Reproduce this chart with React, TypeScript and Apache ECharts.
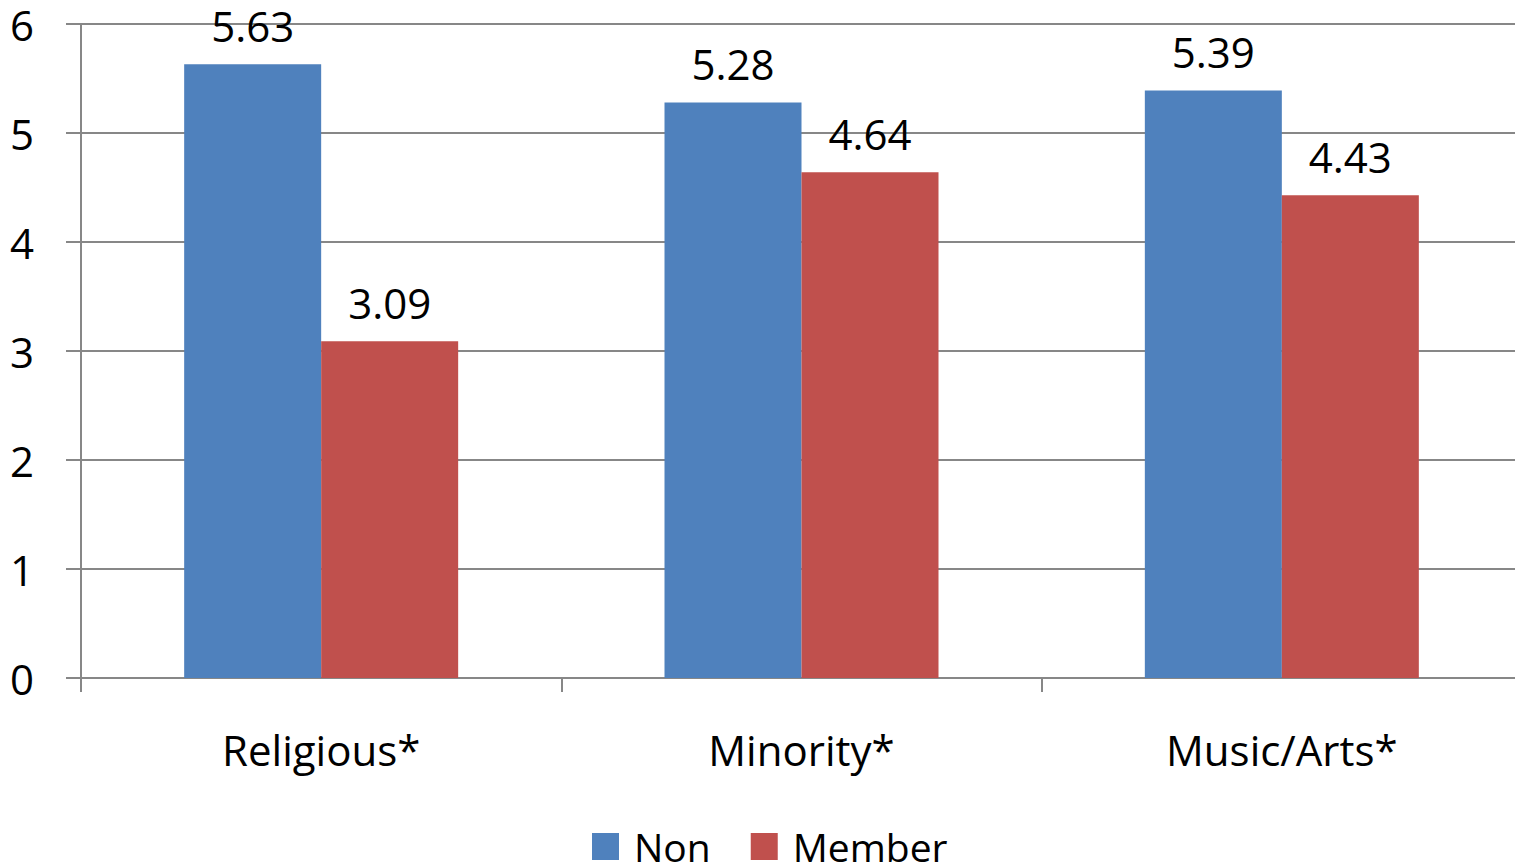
import React, { useEffect, useRef } from "react";
import * as echarts from "echarts";

const categories = ["Religious*", "Minority*", "Music/Arts*"];
const nonValues = [5.63, 5.28, 5.39];
const memberValues = [3.09, 4.64, 4.43];
const seriesNames = ["Non", "Member"];

const FONT = "Open Sans";
const FS = 42;

export default function App() {
  const ref = useRef<HTMLDivElement>(null);
  useEffect(() => {
    if (!ref.current) return;
    const chart = echarts.init(ref.current, null, { renderer: "svg" });
    const labelStyle = {
      show: true,
      position: "top" as const,
      distance: 24,
      fontFamily: FONT,
      fontSize: FS,
      lineHeight: 30,
      color: "#000",
    };
    chart.setOption({
      animation: false,
      backgroundColor: "#fff",
      textStyle: { fontFamily: FONT },
      grid: { left: 81, right: 0, top: 24, bottom: 187, containLabel: false },
      legend: {
        left: 592,
        top: 827,
        padding: 0,
        itemWidth: 27,
        itemHeight: 27,
        itemGap: 40,
        icon: "rect",
        textStyle: { fontFamily: FONT, fontSize: 39, lineHeight: 28, color: "#000", padding: [0, 0, 0, 10] },
        data: seriesNames,
      },
      xAxis: {
        type: "category",
        data: categories,
        boundaryGap: true,
        axisLine: { show: true, lineStyle: { color: "#878787", width: 2 } },
        axisTick: { show: true, length: 14, alignWithLabel: false, lineStyle: { color: "#878787", width: 2 } },
        axisLabel: { fontFamily: FONT, fontSize: FS, color: "#000", margin: 50 },
      },
      yAxis: {
        type: "value",
        min: 0,
        max: 6,
        interval: 1,
        axisLine: { show: true, lineStyle: { color: "#878787", width: 2 } },
        axisTick: { show: true, length: 15, lineStyle: { color: "#878787", width: 2 } },
        splitLine: { show: true, lineStyle: { color: "#878787", width: 2 } },
        axisLabel: { fontFamily: FONT, fontSize: FS, lineHeight: 30, color: "#000", margin: 47 },
      },
      series: [
        {
          name: seriesNames[0],
          type: "bar",
          data: nonValues,
          barWidth: 137,
          barGap: "0%",
          itemStyle: { color: "#4F81BD" },
          label: labelStyle,
        },
        {
          name: seriesNames[1],
          type: "bar",
          data: memberValues,
          barWidth: 137,
          barGap: "0%",
          itemStyle: { color: "#C0504D" },
          label: labelStyle,
        },
      ],
    });
    return () => chart.dispose();
  }, []);
  return (
    <div
      style={{ position: "absolute", left: 0, top: 0, width: 1515, height: 865, overflow: "hidden", background: "#fff" }}
    >
      <div ref={ref} style={{ width: 1522, height: 865 }} />
    </div>
  );
}
